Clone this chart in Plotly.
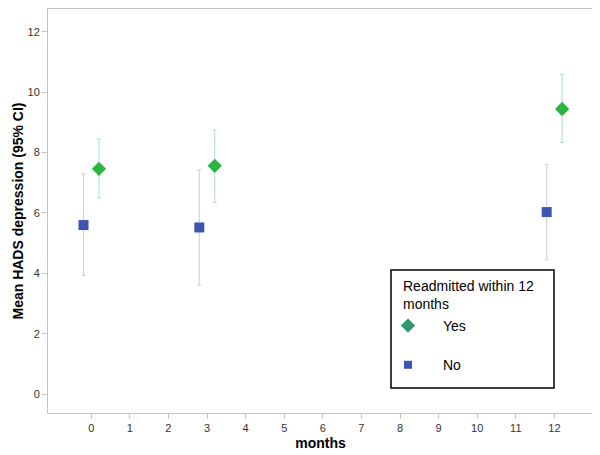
import plotly.graph_objects as go

months = [0, 3, 12]
x_no = [-0.2, 2.8, 11.8]
x_yes = [0.2, 3.2, 12.2]

no_mean = [5.60, 5.52, 6.03]
no_upper = [7.30, 7.43, 7.61]
no_lower = [3.93, 3.62, 4.45]

yes_mean = [7.46, 7.56, 9.44]
yes_upper = [8.45, 8.74, 10.58]
yes_lower = [6.50, 6.34, 8.33]

x_ticks = list(range(0, 13))
y_ticks = [0, 2, 4, 6, 8, 10, 12]

legend_title = "Readmitted within 12<br>months"

font_family = "Liberation Sans, Arial, sans-serif"

# the page body adds an 8px offset; work in window pixels and compensate
OFF = 8
W, H = 600 - OFF, 455 - OFF
L, R, T, B = 48, 593, 9, 413   # plot area in window pixels

def px(x):
    return (x - L) / (R - L)
def py(y):
    return (B - y) / (B - T)

fig = go.Figure()

fig.add_trace(go.Scatter(
    x=x_no, y=no_mean, mode="markers", showlegend=False,
    marker=dict(symbol="square", size=10, color="#3d55b0"),
    error_y=dict(type="data", symmetric=False,
                 array=[u - m for u, m in zip(no_upper, no_mean)],
                 arrayminus=[m - l for m, l in zip(no_mean, no_lower)],
                 color="#c9cde0", thickness=1, width=2),
))
fig.add_trace(go.Scatter(
    x=x_yes, y=yes_mean, mode="markers", showlegend=False,
    marker=dict(symbol="diamond", size=11, color="#2bb540"),
    error_y=dict(type="data", symmetric=False,
                 array=[u - m for u, m in zip(yes_upper, yes_mean)],
                 arrayminus=[m - l for m, l in zip(yes_mean, yes_lower)],
                 color="#b3dfc4", thickness=1, width=2),
))

# legend-only entries
fig.add_trace(go.Scatter(
    x=[None], y=[None], mode="markers", name="Yes", legendgroup="yes",
    marker=dict(symbol="diamond", size=11, color="#2e9a6a"),
))
fig.add_trace(go.Scatter(
    x=[None], y=[None], mode="markers", name="No", legendgroup="no",
    marker=dict(symbol="square", size=8, color="#3d55b0"),
))

axis_common = dict(
    showline=True, linecolor="#c4c4c4", linewidth=1, mirror=True,
    showgrid=False, zeroline=False, automargin=False,
    ticks="outside", ticklen=5, tickcolor="#c4c4c4",
    tickfont=dict(family=font_family, size=11, color="#333333"),
)

fig.update_layout(
    width=W, height=H,
    margin=dict(l=L - OFF, r=600 - R, t=1, b=455 - B),
    paper_bgcolor="white", plot_bgcolor="white",
    font=dict(family=font_family, color="#000000"),
    xaxis=dict(range=[-1.12, 13.0], tickvals=x_ticks,
               title=dict(text="<b>months</b>", font=dict(size=14), standoff=4),
               **axis_common),
    yaxis=dict(range=[-0.62, 12.75], tickvals=y_ticks,
               title=dict(text="<b>Mean HADS depression (95% CI)</b>", font=dict(size=14), standoff=0),
               **axis_common),
    legend=dict(
        x=px(373), y=py(310), xanchor="left", yanchor="top",
        borderwidth=0, bgcolor="rgba(0,0,0,0)",
        font=dict(family=font_family, size=14, color="#000000"),
        itemwidth=60, tracegroupgap=18,
    ),
    shapes=[dict(type="rect", xref="paper", yref="paper",
                 x0=px(391), x1=px(554), y0=py(388), y1=py(270),
                 line=dict(color="#000000", width=1.5), fillcolor="white",
                 layer="above")],
    annotations=[dict(text=legend_title, xref="paper", yref="paper",
                      x=px(401), y=py(276), xanchor="left", yanchor="top",
                      align="left", showarrow=False,
                      font=dict(family=font_family, size=14, color="#000000"))],
)

fig.write_html("out.html")
